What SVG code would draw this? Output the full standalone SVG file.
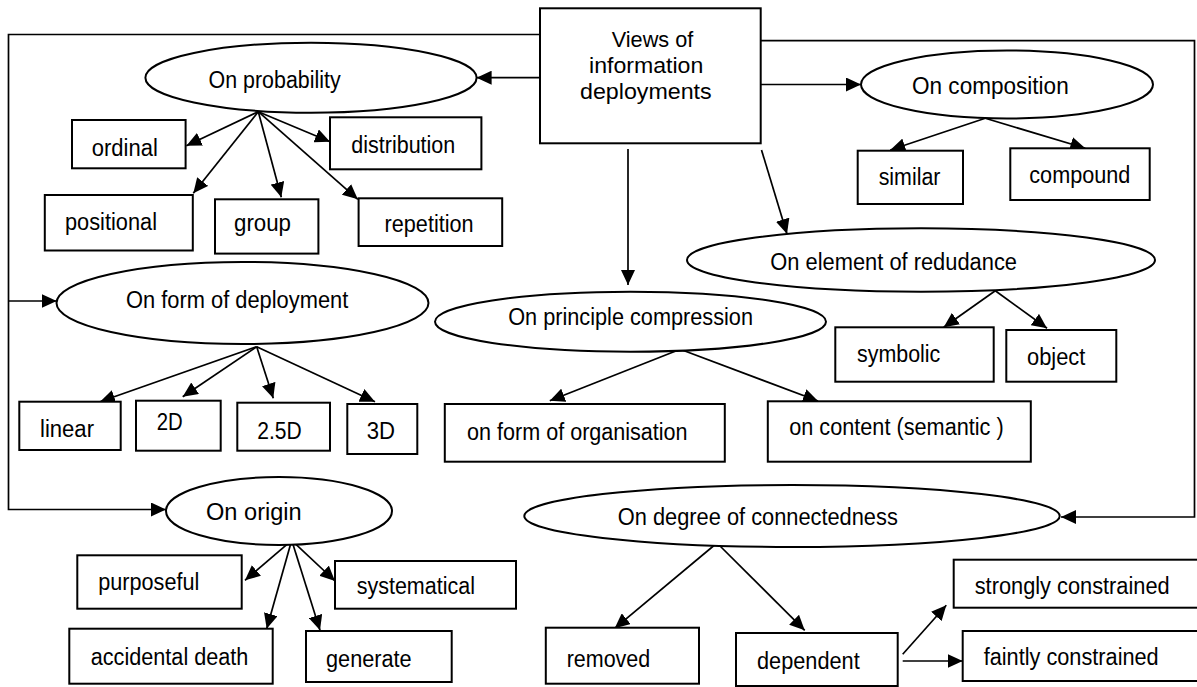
<svg xmlns="http://www.w3.org/2000/svg" width="1197" height="687" viewBox="0 0 1197 687">
<defs>
<marker id="ah" markerUnits="userSpaceOnUse" markerWidth="16" markerHeight="14" refX="15" refY="7" orient="auto">
<path d="M0,0 L15,7 L0,14 z" fill="#000"/>
</marker>
<style>
.n rect, .n ellipse { fill:#fff; stroke:#000; stroke-width:2; }
text { font-family:"Liberation Sans", Arial, sans-serif; font-size:23px; fill:#000; }
.t { font-size:22px; }
#connectors line, #connectors polyline { stroke:#000; stroke-width:1.7; fill:none; }
.a { marker-end:url(#ah); }
</style>
</defs>
<rect width="1197" height="687" fill="#fff"/>
<g id="connectors">
<polyline class="a" points="540,34.5 8.5,34.5 8.5,509.5 166,509.5"/>
<line class="a" x1="8.5" y1="301" x2="56.7" y2="301"/>
<polyline class="a" points="760,40.7 1194.5,40.7 1194.5,517 1061,517"/>
<line class="a" x1="540" y1="77.7" x2="476.6" y2="77.7"/>
<line class="a" x1="760" y1="84.5" x2="861" y2="84.5"/>
<line class="a" x1="628" y1="149" x2="628" y2="285"/>
<line class="a" x1="761.5" y1="150" x2="787" y2="234"/>
<line class="a" x1="258.3" y1="111.7" x2="186.4" y2="145.7"/>
<line class="a" x1="258.3" y1="111.7" x2="193.3" y2="193.3"/>
<line class="a" x1="258.3" y1="111.7" x2="281.3" y2="197.3"/>
<line class="a" x1="258.3" y1="111.7" x2="357.8" y2="199.3"/>
<line class="a" x1="258.3" y1="111.7" x2="330" y2="141.7"/>
<line class="a" x1="985.3" y1="118.3" x2="890.3" y2="150"/>
<line class="a" x1="985.3" y1="118.3" x2="1085.3" y2="148.3"/>
<line class="a" x1="256.7" y1="346.7" x2="100" y2="401.7"/>
<line class="a" x1="256.7" y1="346.7" x2="182.7" y2="396.7"/>
<line class="a" x1="256.7" y1="346.7" x2="273.3" y2="398.3"/>
<line class="a" x1="256.7" y1="346.7" x2="375" y2="401.7"/>
<line class="a" x1="680.2" y1="349.3" x2="549.8" y2="400.7"/>
<line class="a" x1="680.2" y1="349.3" x2="818" y2="401"/>
<line class="a" x1="995.3" y1="290.7" x2="943.7" y2="327.3"/>
<line class="a" x1="995.3" y1="290.7" x2="1047" y2="328.3"/>
<line class="a" x1="291.7" y1="540.3" x2="245" y2="580.3"/>
<line class="a" x1="291.7" y1="540.3" x2="335" y2="581"/>
<line class="a" x1="291.7" y1="540.3" x2="266.7" y2="628.7"/>
<line class="a" x1="291.7" y1="540.3" x2="320" y2="630.3"/>
<line class="a" x1="717" y1="543" x2="614.7" y2="628.3"/>
<line class="a" x1="717" y1="543" x2="804.7" y2="630.3"/>
<line class="a" x1="902.7" y1="654.3" x2="946.3" y2="605.3"/>
<line class="a" x1="902.7" y1="661" x2="962.7" y2="661"/>
</g>
<g id="n-views" class="n"><rect x="540" y="8.3" width="220.7" height="135"/>
<text class="t" x="611.7" y="47" textLength="81.6" lengthAdjust="spacingAndGlyphs">Views of</text>
<text class="t" x="589" y="73" textLength="114.3" lengthAdjust="spacingAndGlyphs">information</text>
<text class="t" x="580" y="99" textLength="131.7" lengthAdjust="spacingAndGlyphs">deployments</text></g>
<g id="n-probability" class="n"><ellipse cx="311" cy="77.7" rx="165.6" ry="35"/>
<text x="208.6" y="88.3" textLength="132" lengthAdjust="spacingAndGlyphs">On probability</text></g>
<g id="n-ordinal" class="n"><rect x="72" y="120" width="113.6" height="48.3"/>
<text x="91.8" y="155.7" textLength="66" lengthAdjust="spacingAndGlyphs">ordinal</text></g>
<g id="n-distribution" class="n"><rect x="330" y="117.3" width="151.4" height="52"/>
<text x="351.3" y="153.3" textLength="104" lengthAdjust="spacingAndGlyphs">distribution</text></g>
<g id="n-positional" class="n"><rect x="44.8" y="195" width="148" height="55.5"/>
<text x="65" y="230" textLength="92" lengthAdjust="spacingAndGlyphs">positional</text></g>
<g id="n-group" class="n"><rect x="215" y="199.3" width="103.4" height="54.3"/>
<text x="234" y="231" textLength="57" lengthAdjust="spacingAndGlyphs">group</text></g>
<g id="n-repetition" class="n"><rect x="358.6" y="198.3" width="143.6" height="47.7"/>
<text x="384.6" y="231.7" textLength="89" lengthAdjust="spacingAndGlyphs">repetition</text></g>
<g id="n-composition" class="n"><ellipse cx="1007" cy="84.5" rx="146" ry="34"/>
<text x="912" y="94" textLength="156.7" lengthAdjust="spacingAndGlyphs">On composition</text></g>
<g id="n-similar" class="n"><rect x="857.7" y="150.7" width="105.3" height="53.3"/>
<text x="878.7" y="185" textLength="61.7" lengthAdjust="spacingAndGlyphs">similar</text></g>
<g id="n-compound" class="n"><rect x="1010.3" y="148.3" width="139.4" height="51.7"/>
<text x="1029.3" y="183.3" textLength="101" lengthAdjust="spacingAndGlyphs">compound</text></g>
<g id="n-redundance" class="n"><ellipse cx="921" cy="260" rx="234" ry="31.7"/>
<text x="770.3" y="270" textLength="246.7" lengthAdjust="spacingAndGlyphs">On element of redudance</text></g>
<g id="n-symbolic" class="n"><rect x="835.3" y="327.3" width="158.4" height="54.4"/>
<text x="857" y="361.7" textLength="83.3" lengthAdjust="spacingAndGlyphs">symbolic</text></g>
<g id="n-object" class="n"><rect x="1006.3" y="330" width="110" height="51.7"/>
<text x="1027" y="365" textLength="58.3" lengthAdjust="spacingAndGlyphs">object</text></g>
<g id="n-form" class="n"><ellipse cx="242.5" cy="303" rx="186" ry="41"/>
<text x="126" y="308.3" textLength="222.3" lengthAdjust="spacingAndGlyphs">On form of deployment</text></g>
<g id="n-linear" class="n"><rect x="19.3" y="401.7" width="101.4" height="48.3"/>
<text x="40" y="437.3" textLength="54" lengthAdjust="spacingAndGlyphs">linear</text></g>
<g id="n-2d" class="n"><rect x="136" y="400.7" width="84.7" height="50"/>
<text x="156.7" y="430" textLength="26" lengthAdjust="spacingAndGlyphs">2D</text></g>
<g id="n-25d" class="n"><rect x="237.3" y="402.7" width="92.7" height="48"/>
<text x="257.3" y="438.7" textLength="44.4" lengthAdjust="spacingAndGlyphs">2.5D</text></g>
<g id="n-3d" class="n"><rect x="347.3" y="404" width="70" height="50"/>
<text x="366.7" y="439.3" textLength="28.3" lengthAdjust="spacingAndGlyphs">3D</text></g>
<g id="n-principle" class="n"><ellipse cx="630.5" cy="321.7" rx="195.5" ry="30"/>
<text x="508.2" y="325" textLength="244.8" lengthAdjust="spacingAndGlyphs">On principle compression</text></g>
<g id="n-organisation" class="n"><rect x="444.8" y="404" width="280" height="57.7"/>
<text x="467.1" y="440" textLength="220.5" lengthAdjust="spacingAndGlyphs">on form of organisation</text></g>
<g id="n-content" class="n"><rect x="767.8" y="401.3" width="263" height="60.4"/>
<text x="789.2" y="435" textLength="214.5" lengthAdjust="spacingAndGlyphs">on content (semantic )</text></g>
<g id="n-origin" class="n"><ellipse cx="279" cy="511" rx="113" ry="34"/>
<text x="206" y="520.3" textLength="95.7" lengthAdjust="spacingAndGlyphs">On origin</text></g>
<g id="n-purposeful" class="n"><rect x="77.3" y="555.3" width="164.4" height="53.4"/>
<text x="98.3" y="590.3" textLength="101" lengthAdjust="spacingAndGlyphs">purposeful</text></g>
<g id="n-systematical" class="n"><rect x="335" y="561" width="181" height="47.7"/>
<text x="356.7" y="593.7" textLength="118.3" lengthAdjust="spacingAndGlyphs">systematical</text></g>
<g id="n-accidental" class="n"><rect x="69.3" y="628.7" width="203.4" height="55"/>
<text x="90.7" y="665.3" textLength="157.7" lengthAdjust="spacingAndGlyphs">accidental death</text></g>
<g id="n-generate" class="n"><rect x="306" y="631" width="145.7" height="51"/>
<text x="326" y="667" textLength="85.7" lengthAdjust="spacingAndGlyphs">generate</text></g>
<g id="n-connectedness" class="n"><ellipse cx="792" cy="516" rx="267.7" ry="31"/>
<text x="617.8" y="525.3" textLength="280" lengthAdjust="spacingAndGlyphs">On degree of connectedness</text></g>
<g id="n-removed" class="n"><rect x="545.8" y="627.7" width="153.2" height="56"/>
<text x="566.7" y="666.7" textLength="83.5" lengthAdjust="spacingAndGlyphs">removed</text></g>
<g id="n-dependent" class="n"><rect x="736" y="633" width="161.7" height="53"/>
<text x="757" y="668.7" textLength="102.7" lengthAdjust="spacingAndGlyphs">dependent</text></g>
<g id="n-strongly" class="n"><rect x="953.7" y="559.7" width="260" height="48"/>
<text x="974.7" y="593.7" textLength="195" lengthAdjust="spacingAndGlyphs">strongly constrained</text></g>
<g id="n-faintly" class="n"><rect x="962.7" y="631" width="260" height="50"/>
<text x="983.7" y="665.3" textLength="175" lengthAdjust="spacingAndGlyphs">faintly constrained</text></g>
</svg>
